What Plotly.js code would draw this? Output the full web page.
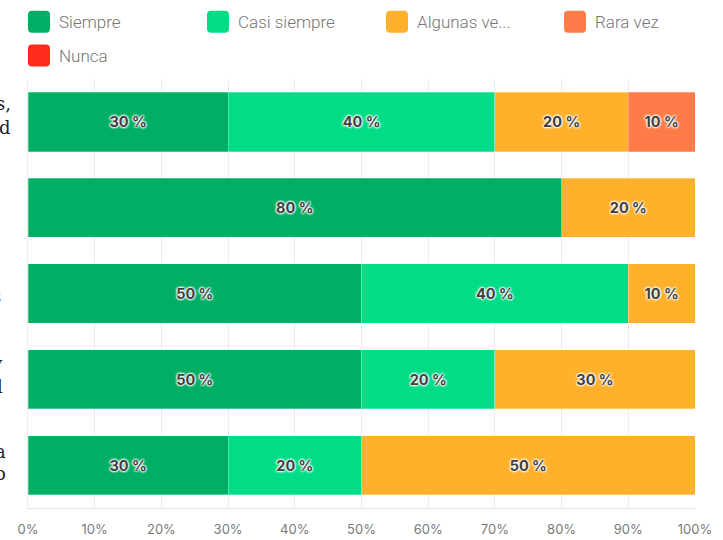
<!DOCTYPE html>
<html>
<head>
<meta charset="utf-8">
<script src="https://cdn.plot.ly/plotly-3.0.1.min.js"></script>
<style>html,body{margin:0;padding:0;background:#fff}#chart{width:723px;height:540px}</style>
</head>
<body>
<div id="chart"></div>
<script>
// ---- data ----
const categories = ['P1', 'P2', 'P3', 'P4', 'P5'];
const seriesNames = ['Siempre', 'Casi siempre', 'Algunas ve...', 'Rara vez', 'Nunca'];
const siempre     = [30, 80, 50, 50, 30];
const casiSiempre = [40, null, 40, 20, 20];
const algunasVeces = [20, 20, 10, 30, 50];
const raraVez     = [10, null, null, null, null];
const nunca       = [null, null, null, null, null];
const tickVals   = [0, 10, 20, 30, 40, 50, 60, 70, 80, 90, 100];
const tickLabels = ['0%', '10%', '20%', '30%', '40%', '50%', '60%', '70%', '80%', '90%', '100%'];
// visible tails of the clipped row labels
const rowLabelTails = [['s,', 'd'], ['', ''], [',', 's'], ['y', 'l'], ['a', 'o']];

const colors = ['#00AF64', '#00DD86', '#FFB12B', '#FF7B47', '#FF2B1C'];
const seriesValues = [siempre, casiSiempre, algunasVeces, raraVez, nunca];

// ---- geometry helpers (pixels -> paper) ----
const W = 723, H = 540;
const L = 28, R = 28, T = 78.5, B = 31.5;
const pw = W - L - R, ph = H - T - B;
const px = x => (x - L) / pw;
const py = y => (H - B - y) / ph;

const traces = seriesValues.map((vals, i) => ({
  type: 'bar',
  orientation: 'h',
  name: seriesNames[i],
  y: categories,
  x: vals,
  text: vals.map(v => (v == null ? '' : v + ' %')),
  texttemplate: '%{text}',
  marker: { color: colors[i], line: { width: 0.6, color: 'rgba(255,255,255,0.45)' } },
  textposition: 'inside',
  insidetextanchor: 'middle',
  textangle: 0,
  textfont: {
    family: 'Inter, Roboto, sans-serif', size: 14.5, color: '#3f3f3f', weight: 700,
    shadow: '0 0 2px #fff, 0 0 2px #fff, 0 0 2px #fff, 0 0 3px #fff, 0 0 3px #fff'
  },
  hoverinfo: 'skip',
  showlegend: false
}));

// ---- custom legend ----
const legendItems = [
  { cx: 39,  cy: 21, tx: 57,  i: 0 },
  { cx: 218, cy: 21, tx: 236, i: 1 },
  { cx: 397, cy: 21, tx: 415, i: 2 },
  { cx: 575, cy: 21, tx: 593, i: 3 },
  { cx: 39,  cy: 55, tx: 57,  i: 4 }
];
const rr = 'M -7,-11 L 7,-11 Q 11,-11 11,-7 L 11,7 Q 11,11 7,11 L -7,11 Q -11,11 -11,7 L -11,-7 Q -11,-11 -7,-11 Z';
const shapes = legendItems.map(it => ({
  type: 'path', xref: 'paper', yref: 'paper',
  xsizemode: 'pixel', ysizemode: 'pixel',
  xanchor: px(it.cx), yanchor: py(it.cy),
  path: rr, fillcolor: colors[it.i], line: { width: 0 }
}));
const annotations = legendItems.map(it => ({
  xref: 'paper', yref: 'paper', x: px(it.tx), y: py(it.cy),
  xanchor: 'left', yanchor: 'middle', showarrow: false,
  text: seriesNames[it.i],
  font: { family: 'Roboto, sans-serif', size: 17, color: '#767676', weight: 300 }
}));

// ---- clipped row labels ----
const labelPos = [
  { right: 13, y1: 103, y2: 127 },
  { right: 13, y1: 196, y2: 220 },
  { right: 3,  y1: 272, y2: 297 },
  { right: 5,  y1: 364, y2: 387 },
  { right: 8,  y1: 452, y2: 474 }
];
rowLabelTails.forEach((pair, r) => {
  pair.forEach((t, k) => {
    if (!t) return;
    annotations.push({
      xref: 'paper', yref: 'paper',
      x: px(labelPos[r].right), y: py(k === 0 ? labelPos[r].y1 : labelPos[r].y2),
      xanchor: 'right', yanchor: 'middle', showarrow: false, text: t,
      font: { family: 'DejaVu Serif, serif', size: 18, color: '#222' }
    });
  });
});

const layout = {
  width: W, height: H,
  margin: { l: L, r: R, t: T, b: B, pad: 0 },
  paper_bgcolor: '#fff', plot_bgcolor: '#fff',
  barmode: 'stack',
  bargap: 0.31,
  showlegend: false,
  xaxis: {
    range: [0, 100], tickvals: tickVals, ticktext: tickLabels,
    showgrid: true, gridcolor: '#ececec', gridwidth: 1,
    zeroline: false,
    showline: true, linecolor: '#e3e3e3', linewidth: 1, mirror: false,
    ticks: 'outside', ticklen: 9, tickcolor: 'rgba(0,0,0,0)',
    tickfont: { family: 'Inter, Roboto, sans-serif', size: 13, color: '#7a7a7a' },
    fixedrange: true
  },
  yaxis: {
    type: 'category', categoryorder: 'array', categoryarray: categories,
    autorange: 'reversed', showticklabels: false, showgrid: false, zeroline: false,
    showline: true, linecolor: '#ececec', linewidth: 1,
    fixedrange: true
  },
  shapes: shapes,
  annotations: annotations
};

Plotly.newPlot('chart', traces, layout, { displayModeBar: false, staticPlot: true });
</script>
</body>
</html>
